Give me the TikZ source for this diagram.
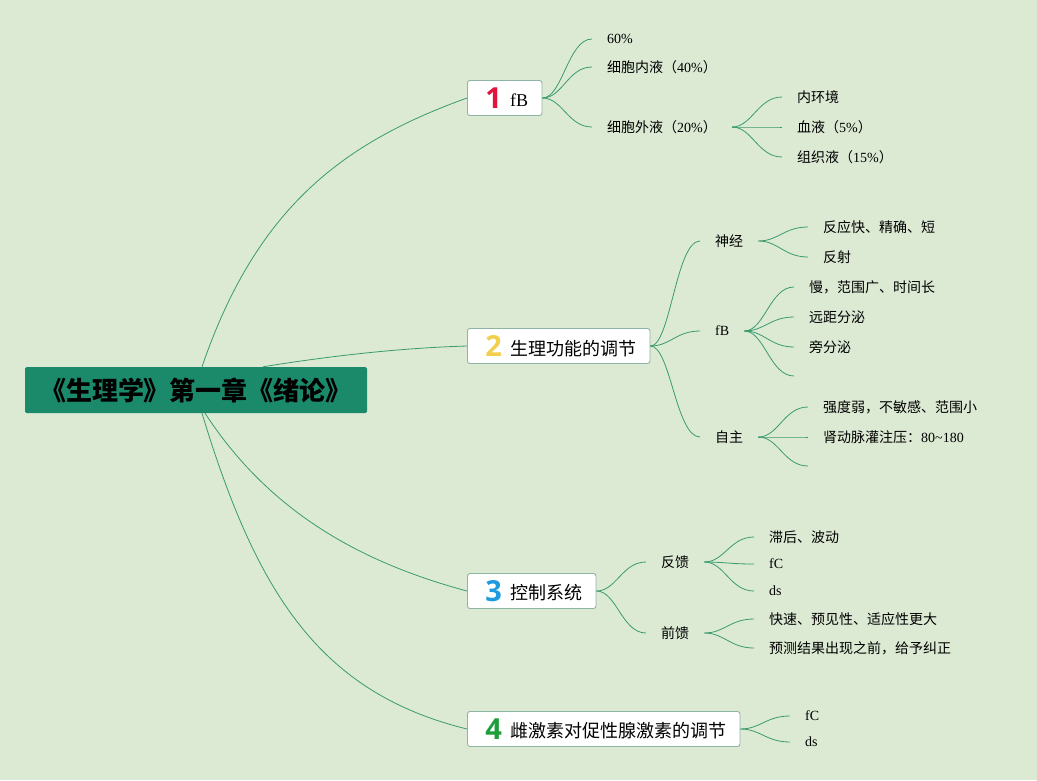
\documentclass[tikz,border=0pt]{standalone}
\usepackage{fontspec}
\setmainfont{Liberation Serif}
\newfontfamily\cjk{Noto Sans CJK SC}
\newfontfamily\numfont{Open Sans}
\newcommand{\zhtxt}[1]{{\cjk #1}}
\newcommand{\topicnum}[2]{\hspace{4pt}\raisebox{-1.5pt}{\numfont\bfseries\fontsize{29}{29}\selectfont\color{#1}#2}\hspace{8pt}}
\definecolor{bgcol}{HTML}{DCEAD4}
\definecolor{rootcol}{HTML}{1B8A6B}
\definecolor{linkcol}{HTML}{3A9A6E}
\definecolor{framecol}{HTML}{8DB5A3}
\definecolor{numred}{HTML}{E0143C}
\definecolor{numyellow}{HTML}{F2D04B}
\definecolor{numblue}{HTML}{1E9BE0}
\definecolor{numgreen}{HTML}{1E9E3A}
\tikzset{
  root/.style={fill=rootcol, rectangle, rounded corners=1.5pt, minimum width=342pt, minimum height=46pt, font=\cjk\bfseries\fontsize{26}{28}\selectfont},
  topic/.style={draw=framecol, fill=white, rectangle, rounded corners=2.5pt, anchor=west, minimum height=35pt, inner xsep=14pt, line width=0.9pt, font=\fontsize{18}{20}\selectfont},
  sub/.style={anchor=west, inner xsep=15pt, inner ysep=2pt, font=\fontsize{14}{16}\selectfont},
  link/.style={draw=linkcol, line width=0.8pt},
  branch/.style={link, to path={.. controls +(20,0) and +(-24,0) .. (\tikztotarget)}},
}
\begin{document}
\begin{tikzpicture}[x=1pt,y=-1pt]
\fill[bgcol] (0,0) rectangle (1037,780);
\useasboundingbox (0,0) rectangle (1037,780);

\node[root] (root) at (196,390) {《生理学》第一章《绪论》};

\node[topic] (t1) at (467,98) {\topicnum{numred}{1}fB};
\node[topic] (t2) at (467,346) {\topicnum{numyellow}{2}\zhtxt{生理功能的调节}};
\node[topic] (t3) at (467,591) {\topicnum{numblue}{3}\zhtxt{控制系统}};
\node[topic] (t4) at (467,729) {\topicnum{numgreen}{4}\zhtxt{雌激素对促性腺激素的调节}};

% topic 1
\node[sub] (a1) at (592,39) {60\%};
\node[sub] (a2) at (592,67) {\zhtxt{细胞内液（}40\%\zhtxt{）}};
\node[sub] (a3) at (592,127) {\zhtxt{细胞外液（}20\%\zhtxt{）}};
\node[sub] (a31) at (782,97) {\zhtxt{内环境}};
\node[sub] (a32) at (782,127) {\zhtxt{血液（}5\%\zhtxt{）}};
\node[sub] (a33) at (782,157) {\zhtxt{组织液（}15\%\zhtxt{）}};

% topic 2
\node[sub] (b1) at (700,241) {\zhtxt{神经}};
\node[sub] (b11) at (808,227) {\zhtxt{反应快、精确、短}};
\node[sub] (b12) at (808,257) {\zhtxt{反射}};
\node[sub] (b2) at (700,331) {fB};
\node[sub] (b21) at (794,287) {\zhtxt{慢，范围广、时间长}};
\node[sub] (b22) at (794,317) {\zhtxt{远距分泌}};
\node[sub] (b23) at (794,347) {\zhtxt{旁分泌}};
\node[sub] (b24) at (794,376) {};
\node[sub] (b3) at (700,437) {\zhtxt{自主}};
\node[sub] (b31) at (808,407) {\zhtxt{强度弱，不敏感、范围小}};
\node[sub] (b32) at (808,437) {\zhtxt{肾动脉灌注压：}80\textasciitilde180};
\node[sub] (b33) at (808,466) {};

% topic 3
\node[sub] (c1) at (646,562) {\zhtxt{反馈}};
\node[sub] (c11) at (754,537) {\zhtxt{滞后、波动}};
\node[sub] (c12) at (754,564) {fC};
\node[sub] (c13) at (754,591) {ds};
\node[sub] (c2) at (646,633) {\zhtxt{前馈}};
\node[sub] (c21) at (754,619) {\zhtxt{快速、预见性、适应性更大}};
\node[sub] (c22) at (754,648) {\zhtxt{预测结果出现之前，给予纠正}};

% topic 4
\node[sub] (d1) at (790,716) {fC};
\node[sub] (d2) at (790,742) {ds};

% root links
\draw[link] ([xshift=6pt]root.north) .. controls +(55,-161) and +(-122,44) .. (t1.west);
\draw[link] ([xshift=67pt]root.north) .. controls +(68,-11) and +(-67,2) .. (t2.west);
\draw[link] ([xshift=9pt]root.south) .. controls +(60,92) and +(-116,-31) .. (t3.west);
\draw[link] ([xshift=6pt]root.south) .. controls +(55,182) and +(-146,-36) .. (t4.west);

% branches
\foreach \a/\b in {t1/a1, t1/a2, t1/a3, a3/a31, a3/a32, a3/a33,
  t2/b1, t2/b2, t2/b3, b1/b11, b1/b12, b2/b21, b2/b22, b2/b23, b2/b24,
  b3/b31, b3/b32, b3/b33,
  t3/c1, t3/c2, c1/c11, c1/c12, c1/c13, c2/c21, c2/c22,
  t4/d1, t4/d2}
  \draw[branch] (\a.east) to (\b.west);

\end{tikzpicture}
\end{document}
